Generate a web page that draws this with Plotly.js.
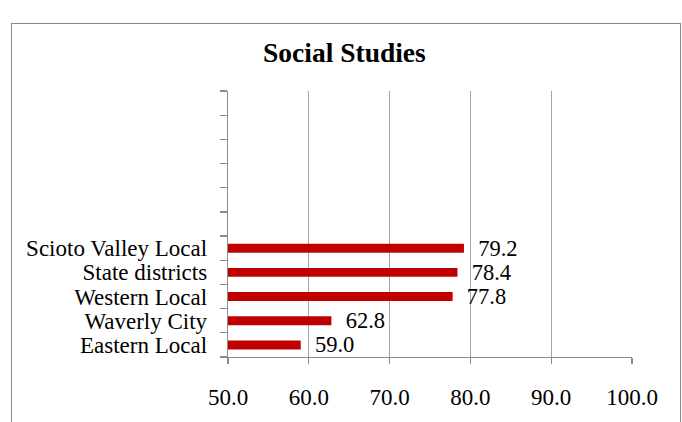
<!DOCTYPE html>
<html>
<head>
<meta charset="utf-8">
<script src="https://cdn.plot.ly/plotly-3.0.1.min.js"></script>
<style>
  html, body { margin: 0; padding: 0; background: #fff; }
  #wrap { position: relative; width: 682px; height: 422px; overflow: hidden; }
  #frame { position: absolute; left: 11px; top: 23px; width: 670px; height: 420px; border: 1px solid #8a8a8a; box-sizing: border-box; }
  #chart { position: absolute; left: 0; top: 0; width: 682px; height: 422px; }
</style>
</head>
<body>
<div id="wrap">
  <div id="frame"></div>
  <div id="chart"></div>
</div>
<script>
// Data (bottom to top)
const categories = ["Eastern Local", "Waverly City", "Western Local", "State districts", "Scioto Valley Local"];
const values = [59.0, 62.8, 77.8, 78.4, 79.2];
const emptySlots = [" ", "  ", "   ", "    ", "     ", "      "];
const xTickVals = [50, 60, 70, 80, 90, 100];
const xTickText = ["50.0", "60.0", "70.0", "80.0", "90.0", "100.0"];

const serif = "Liberation Serif, Times New Roman, serif";
const allCats = categories.concat(emptySlots);

const trace = {
  type: "bar",
  orientation: "h",
  x: values,
  y: categories,
  marker: { color: "#C00000" },
  width: 0.37,
  text: values.map(v => "\u00a0\u00a0" + v.toFixed(1)),
  textposition: "outside",
  constraintext: "none",
  textfont: { family: serif, size: 22.5, color: "#000000" },
  cliponaxis: false,
  hoverinfo: "skip"
};

const layout = {
  width: 682,
  height: 422,
  paper_bgcolor: "rgba(0,0,0,0)",
  plot_bgcolor: "rgba(0,0,0,0)",
  margin: { l: 228, r: 50, t: 91, b: 65 },
  showlegend: false,
  title: {
    text: "<b>Social Studies</b>",
    font: { family: serif, size: 27.5, color: "#000" },
    x: 0.505, xanchor: "center",
    y: 0.875, yanchor: "middle"
  },
  xaxis: {
    range: [50, 100],
    tickmode: "array",
    tickvals: xTickVals,
    ticktext: xTickText,
    showgrid: true,
    gridcolor: "#a6a6a6",
    gridwidth: 1,
    zeroline: false,
    showline: true,
    linecolor: "#8c8c8c",
    linewidth: 1.3,
    ticks: "outside",
    ticklen: 6,
    tickcolor: "#8c8c8c",
    tickwidth: 1.3,
    ticklabelstandoff: 13,
    tickfont: { family: serif, size: 23, color: "#000" },
    fixedrange: true
  },
  yaxis: {
    type: "category",
    categoryorder: "array",
    categoryarray: allCats,
    range: [-0.5, 10.5],
    tickmode: "array",
    tickvals: allCats,
    ticktext: allCats,
    tickson: "boundaries",
    ticks: "outside",
    ticklen: 7,
    tickcolor: "#8c8c8c",
    tickwidth: 1.3,
    showgrid: false,
    showline: true,
    linecolor: "#8c8c8c",
    linewidth: 1.3,
    ticklabelstandoff: 15,
    tickfont: { family: serif, size: 23, color: "#000" },
    fixedrange: true
  },
  bargap: 0.63
};

Plotly.newPlot("chart", [trace], layout, { displayModeBar: false, staticPlot: true });
</script>
</body>
</html>
